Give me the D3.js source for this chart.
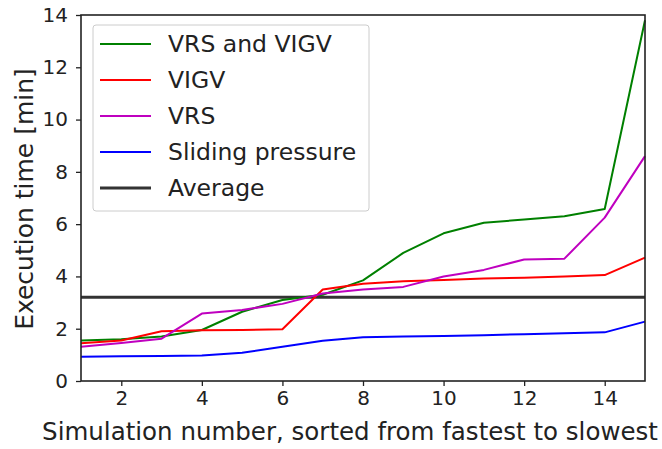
<!DOCTYPE html>
<html>
<head>
<meta charset="utf-8">
<script src="https://cdn.jsdelivr.net/npm/d3@7"></script>
<style>
  body { margin: 0; background: #fff; }
  text { font-family: "DejaVu Sans", sans-serif; fill: #222; }
</style>
</head>
<body>
<div id="graphic"></div>
<script>
// Chart data
var simNumbers = [1, 2, 3, 4, 5, 6, 7, 8, 9, 10, 11, 12, 13, 14, 15];
var seriesNames = ['VRS and VIGV', 'VIGV', 'VRS', 'Sliding pressure', 'Average'];
var vrsAndVigv = [1.55, 1.6, 1.7, 1.95, 2.65, 3.1, 3.3, 3.85, 4.9, 5.65, 6.05, 6.18, 6.3, 6.58, 13.8];
var vigv = [1.44, 1.55, 1.9, 1.94, 1.95, 1.98, 3.5, 3.72, 3.82, 3.86, 3.92, 3.95, 4.0, 4.05, 4.72];
var vrs = [1.31, 1.45, 1.62, 2.58, 2.72, 2.95, 3.35, 3.5, 3.6, 4.0, 4.25, 4.65, 4.68, 6.25, 8.6];
var slidingPressure = [0.93, 0.95, 0.96, 0.98, 1.08, 1.31, 1.54, 1.67, 1.7, 1.72, 1.75, 1.79, 1.83, 1.86, 2.27];
var average = 3.2;
var xTicks = [2, 4, 6, 8, 10, 12, 14];
var yTicks = [0, 2, 4, 6, 8, 10, 12, 14];

var colors = ['#008000', '#ff0000', '#bf00bf', '#0000ff', '#333333'];

var renderGraphic = function () {
  var width = 662, height = 449;
  var margins = { top: 15, right: 17, bottom: 68, left: 81 };
  var chartWidth = width - margins.left - margins.right;
  var chartHeight = height - margins.top - margins.bottom;

  var svg = d3.select('#graphic').append('svg')
    .attr('width', width)
    .attr('height', height);

  var chart = svg.append('g')
    .attr('transform', 'translate(' + margins.left + ',' + margins.top + ')');

  var x = d3.scaleLinear().domain([1, 15]).range([0, chartWidth]);
  var y = d3.scaleLinear().domain([0, 14]).range([chartHeight, 0]);

  // Lines
  var line = d3.line()
    .x(function (d, i) { return x(simNumbers[i]); })
    .y(function (d) { return y(d); });

  var allSeries = [vrsAndVigv, vigv, vrs, slidingPressure];

  chart.append('line')
    .attr('x1', 0).attr('x2', chartWidth)
    .attr('y1', y(average)).attr('y2', y(average))
    .attr('stroke', colors[4])
    .attr('stroke-width', 3);

  allSeries.forEach(function (s, i) {
    chart.append('path')
      .datum(s)
      .attr('d', line)
      .attr('fill', 'none')
      .attr('stroke', colors[i])
      .attr('stroke-width', 2)
      .attr('stroke-linejoin', 'round');
  });

  // Axes
  var xAxis = chart.append('g')
    .attr('transform', 'translate(0,' + chartHeight + ')')
    .call(d3.axisBottom(x).tickValues(xTicks).tickSize(5).tickPadding(5).tickFormat(d3.format('d')));
  var yAxis = chart.append('g')
    .call(d3.axisLeft(y).tickValues(yTicks).tickSize(5).tickPadding(8).tickFormat(d3.format('d')));

  [xAxis, yAxis].forEach(function (a) {
    a.select('.domain').remove();
    a.selectAll('line').attr('stroke', '#222').attr('stroke-width', 1.3);
    a.selectAll('text').style('font-size', '20px').attr('fill', '#222');
  });

  // Frame
  chart.append('rect')
    .attr('width', chartWidth).attr('height', chartHeight)
    .attr('fill', 'none')
    .attr('stroke', '#222')
    .attr('stroke-width', 1.6);

  // Axis labels
  svg.append('text')
    .attr('x', 350).attr('y', 440)
    .attr('text-anchor', 'middle')
    .style('font-size', '24.5px')
    .text('Simulation number, sorted from fastest to slowest');

  svg.append('text')
    .attr('transform', 'translate(33,199) rotate(-90)')
    .attr('text-anchor', 'middle')
    .style('font-size', '25px')
    .text('Execution time [min]');

  // Legend
  var legend = svg.append('g').attr('transform', 'translate(93,25)');
  legend.append('rect')
    .attr('width', 276).attr('height', 186)
    .attr('rx', 3)
    .attr('fill', '#fff')
    .attr('fill-opacity', 0.85)
    .attr('stroke', '#ccc');

  seriesNames.forEach(function (name, i) {
    var cy = 19 + i * 36;
    legend.append('line')
      .attr('x1', 7).attr('x2', 58)
      .attr('y1', cy).attr('y2', cy)
      .attr('stroke', colors[i])
      .attr('stroke-width', i === 4 ? 3 : 2);
    legend.append('text')
      .attr('x', 75).attr('y', cy)
      .attr('dy', '0.35em')
      .style('font-size', '23.5px')
      .text(name);
  });
};

window.onload = renderGraphic;
</script>
</body>
</html>
